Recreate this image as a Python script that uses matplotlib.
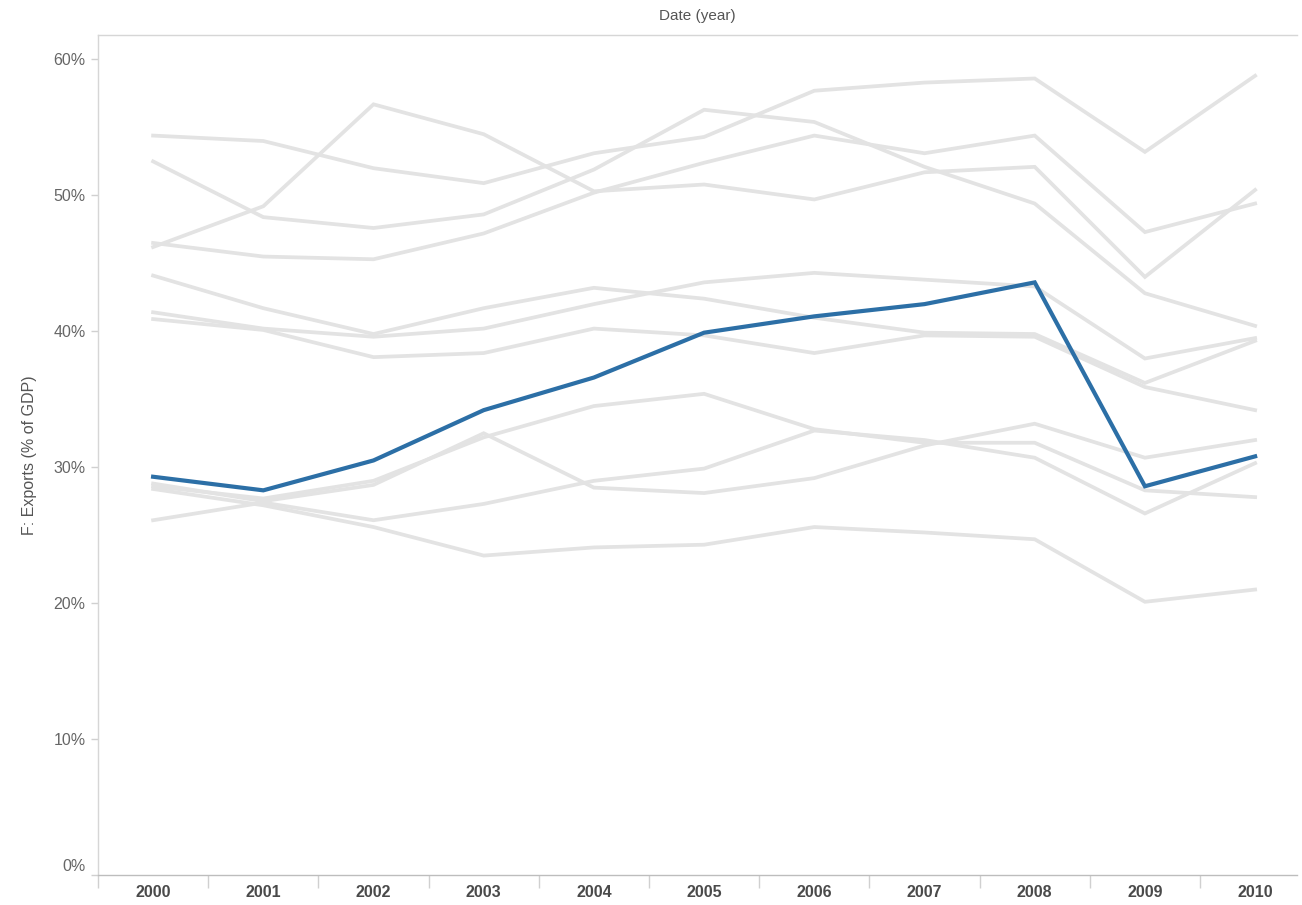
import matplotlib
matplotlib.use("Agg")
import matplotlib.pyplot as plt
from matplotlib.ticker import FixedLocator, FuncFormatter

plt.rcParams['font.family'] = ['Liberation Sans', 'DejaVu Sans']

years = [2000, 2001, 2002, 2003, 2004, 2005, 2006, 2007, 2008, 2009, 2010]

# highlighted series (exports, % of GDP)
highlight = [29.3, 28.3, 30.5, 34.2, 36.6, 39.9, 41.1, 42.0, 43.6, 28.6, 30.8]

# background series
other_a = [54.4, 54.0, 52.0, 50.9, 53.1, 54.3, 57.7, 58.3, 58.6, 53.2, 58.8]
other_b = [52.5, 48.4, 47.6, 48.6, 51.9, 56.3, 55.4, 52.1, 49.4, 42.8, 40.4]
other_c = [46.5, 45.5, 45.3, 47.2, 50.2, 52.4, 54.4, 53.1, 54.4, 47.3, 49.4]
other_d = [46.2, 49.2, 56.7, 54.5, 50.3, 50.8, 49.7, 51.7, 52.1, 44.0, 50.4]
other_e = [44.1, 41.7, 39.8, 41.7, 43.2, 42.4, 41.0, 39.9, 39.8, 36.2, 39.3]
other_f = [41.4, 40.2, 39.6, 40.2, 42.0, 43.6, 44.3, 43.8, 43.3, 38.0, 39.5]
other_g = [40.9, 40.1, 38.1, 38.4, 40.2, 39.7, 38.4, 39.7, 39.6, 35.9, 34.2]
other_h = [28.6, 27.7, 29.0, 32.2, 34.5, 35.4, 32.8, 31.8, 31.8, 28.3, 27.8]
other_i = [28.8, 27.5, 28.7, 32.5, 28.5, 28.1, 29.2, 31.6, 33.2, 30.7, 32.0]
other_j = [28.4, 27.2, 25.6, 23.5, 24.1, 24.3, 25.6, 25.2, 24.7, 20.1, 21.0]
other_k = [26.1, 27.4, 26.1, 27.3, 29.0, 29.9, 32.7, 32.0, 30.7, 26.6, 30.3]

others = [other_a, other_b, other_c, other_d, other_e, other_f,
          other_g, other_h, other_i, other_j, other_k]

y_ticks = [0, 10, 20, 30, 40, 50, 60]

W, H = 1302, 905
fig = plt.figure(figsize=(W / 100, H / 100), dpi=100)
left, right, top, bottom = 98, 1297, 35, 875
ax = fig.add_axes([left / W, (H - bottom) / H, (right - left) / W, (bottom - top) / H])

grey = '#e3e3e3'
for s in others:
    ax.plot(years, s, color=grey, lw=2.7, solid_joinstyle='miter', zorder=2)
ax.plot(years, highlight, color='#2c6fa6', lw=3.0, solid_joinstyle='miter', zorder=3)

ax.set_xlim(1999.5, 2010.38)
ax.set_ylim(0, 61.8)

# spines
ax.spines['right'].set_visible(False)
ax.spines['top'].set_color('#d6d6d6')
ax.spines['left'].set_color('#d6d6d6')
ax.spines['bottom'].set_color('#bdbdbd')
for sp in ['top', 'left', 'bottom']:
    ax.spines[sp].set_linewidth(1.0)

# x axis: labels at years, divider ticks between years
ax.xaxis.set_major_locator(FixedLocator(years))
ax.set_xticklabels([str(y) for y in years], fontsize=11.5, fontweight='bold', color='#4a4a4a')
ax.tick_params(axis='x', which='major', length=0, pad=7)
ax.xaxis.set_minor_locator(FixedLocator([y - 0.5 for y in years]))
ax.tick_params(axis='x', which='minor', length=9, width=1, color='#d0d0d0', direction='out')

# y axis
ax.yaxis.set_major_locator(FixedLocator(y_ticks))
ax.yaxis.set_major_formatter(FuncFormatter(lambda v, p: '' if v == 0 else f'{int(v)}%'))
ax.tick_params(axis='y', which='major', length=5, width=1, color='#d0d0d0',
               labelsize=11.5, labelcolor='#666666', pad=4)
# 0% label sits slightly above its tick, as in the reference
ax.annotate('0%', xy=(0, 0), xycoords=('axes fraction', 'data'),
            xytext=(-9, 6), textcoords='offset points', ha='right', va='center',
            fontsize=11.5, color='#666666')

ax.set_ylabel('F: Exports (% of GDP)', fontsize=11.5, color='#555555', labelpad=12)

fig.text((left + right) / 2 / W, 1 - 16 / H, 'Date (year)', ha='center', va='center',
         fontsize=11, color='#555555')

fig.savefig('out.png', dpi=100, facecolor='white')
